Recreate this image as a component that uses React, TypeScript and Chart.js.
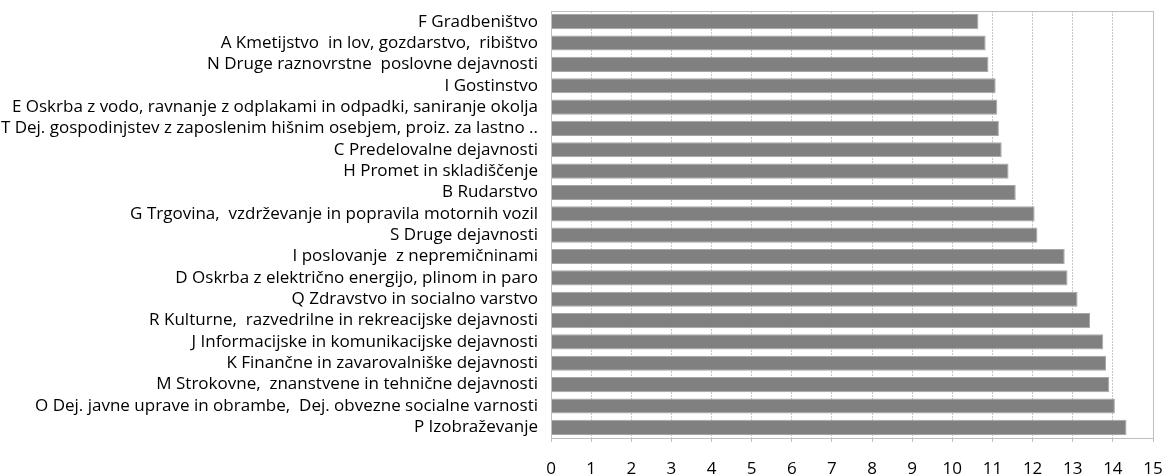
import React, { useEffect, useRef } from "react";
import { Chart, registerables } from "chart.js";

Chart.register(...registerables);

const categories: string[] = [
  "F Gradbeništvo",
  "A Kmetijstvo  in lov, gozdarstvo,  ribištvo",
  "N Druge raznovrstne  poslovne dejavnosti",
  "I Gostinstvo",
  "E Oskrba z vodo, ravnanje z odplakami in odpadki, saniranje okolja",
  "T Dej. gospodinjstev z zaposlenim hišnim osebjem, proiz. za lastno ..",
  "C Predelovalne dejavnosti",
  "H Promet in skladiščenje",
  "B Rudarstvo",
  "G Trgovina,  vzdrževanje in popravila motornih vozil",
  "S Druge dejavnosti",
  "I poslovanje  z nepremičninami",
  "D Oskrba z električno energijo, plinom in paro",
  "Q Zdravstvo in socialno varstvo",
  "R Kulturne,  razvedrilne in rekreacijske dejavnosti",
  "J Informacijske in komunikacijske dejavnosti",
  "K Finančne in zavarovalniške dejavnosti",
  "M Strokovne,  znanstvene in tehnične dejavnosti",
  "O Dej. javne uprave in obrambe,  Dej. obvezne socialne varnosti",
  "P Izobraževanje",
];

const values: number[] = [
  10.65, 10.83, 10.9, 11.08, 11.12, 11.16, 11.23, 11.4, 11.58, 12.05,
  12.12, 12.8, 12.87, 13.12, 13.43, 13.76, 13.83, 13.91, 14.05, 14.34,
];

const xMin = 0;
const xMax = 15;
const xStep = 1;

const FONT = "'Open Sans', sans-serif";

const framePlugin = {
  id: "frame",
  afterDatasetsDraw(chart: any) {
    const { ctx, chartArea } = chart;
    ctx.save();
    ctx.strokeStyle = "#bfbfbf";
    ctx.lineWidth = 1;
    ctx.strokeRect(
      Math.round(chartArea.left) + 0.5,
      Math.round(chartArea.top) + 0.5,
      Math.round(chartArea.right - chartArea.left),
      Math.round(chartArea.bottom - chartArea.top)
    );
    ctx.restore();
  },
};

export default function App() {
  const ref = useRef<HTMLCanvasElement | null>(null);

  useEffect(() => {
    if (!ref.current) return;
    const chart = new Chart(ref.current, {
      type: "bar",
      data: {
        labels: categories,
        datasets: [
          {
            data: values,
            backgroundColor: "#808080",
            borderColor: "#a6a6a6",
            borderWidth: 1,
            barPercentage: 0.71,
            categoryPercentage: 1,
          },
        ],
      },
      options: {
        indexAxis: "y",
        animation: false,
        responsive: false,
        maintainAspectRatio: false,
        layout: { padding: { top: 11, right: 12, left: 0, bottom: 0 } },
        plugins: {
          legend: { display: false },
          tooltip: { enabled: false },
        },
        scales: {
          x: {
            type: "linear",
            min: xMin,
            max: xMax,
            ticks: {
              stepSize: xStep,
              padding: 17,
              color: "#000",
              font: { family: FONT, size: 17 },
            },
            grid: {
              color: "#c8c8c8",
              tickLength: 4,
              tickColor: "#bfbfbf",
              tickBorderDash: [],
            } as any,
            border: { color: "#bfbfbf", dash: [2, 1] },
            afterFit(scale: any) {
              scale.height = 37;
              scale.paddingLeft = 0;
              scale.paddingRight = 0;
            },
          },
          y: {
            type: "category",
            offset: true,
            grid: { display: false, drawTicks: false, tickLength: 0 },
            border: { display: true, color: "#bfbfbf" },
            ticks: {
              padding: 13,
              color: "#000",
              autoSkip: false,
              font: { family: FONT, size: 17 },
            },
            afterFit(scale: any) {
              scale.width = 551;
              scale.paddingTop = 0;
              scale.paddingBottom = 0;
            },
          },
        },
      },
      plugins: [framePlugin],
    });
    return () => chart.destroy();
  }, []);

  return (
    <div style={{ position: "absolute", left: 0, top: 0, width: 1165, height: 475, background: "#fff" }}>
      <canvas ref={ref} width={1165} height={475} style={{ display: "block" }} />
    </div>
  );
}
